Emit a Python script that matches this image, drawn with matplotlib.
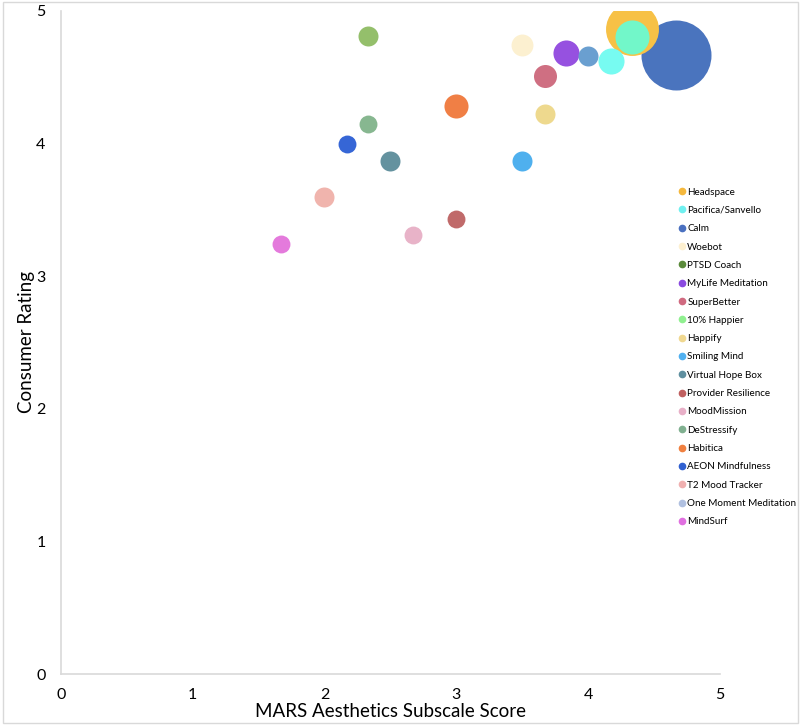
import matplotlib.pyplot as plt
from matplotlib.lines import Line2D
from matplotlib.patches import Rectangle

# ---- data ----
apps = ["Headspace", "Pacifica/Sanvello", "Calm", "Woebot", "PTSD Coach",
        "MyLife Meditation", "SuperBetter", "10% Happier", "Happify",
        "Smiling Mind", "Virtual Hope Box", "Provider Resilience",
        "MoodMission", "DeStressify", "Habitica", "AEON Mindfulness",
        "T2 Mood Tracker", "One Moment Meditation", "MindSurf"]
aesthetics = [4.33, 4.17, 4.67, 3.50, 2.33, 3.83, 3.67, 4.33, 3.67, 3.50,
              2.50, 3.00, 2.67, 2.33, 3.00, 2.17, 2.00, 4.00, 1.67]
rating = [4.86, 4.62, 4.67, 4.74, 4.81, 4.68, 4.51, 4.80, 4.22, 3.87,
          3.87, 3.43, 3.31, 4.15, 4.28, 4.00, 3.60, 4.66, 3.24]
bubble = [28.0, 6.8, 49.0, 4.8, 4.0, 6.8, 5.3, 11.6, 4.0, 4.0,
          4.0, 3.2, 3.2, 3.2, 5.8, 3.2, 4.0, 4.0, 3.2]

bubble_colors = ["#f7c146", "#77fbf1", "#4a74be", "#fcf0d0", "#94bf6b",
                 "#9651e0", "#cf6f82", "#72f7c9", "#eed98e", "#4fb0ee",
                 "#64929f", "#c06a6a", "#e8b3c8", "#87b790", "#f07f45",
                 "#3666d6", "#f0b4ad", "#6a9fd0", "#e47adc"]
legend_colors = ["#f5b83d", "#70f0f0", "#4a70c0", "#fdf0d0", "#5a8a3a",
                 "#8a4ae0", "#d06a80", "#90f090", "#f0d890", "#50b0f0",
                 "#6090a0", "#c06060", "#e8b0c8", "#80b090", "#f08040",
                 "#3060d0", "#f0b0b0", "#b0c0e0", "#e070e0"]

plt.rcParams["font.family"] = ["Lato", "DejaVu Sans"]

fig = plt.figure(figsize=(8, 7.25), dpi=100)
ax = fig.add_axes([0.076, 0.0703, 0.824, 0.9147])

# bigger bubbles further back
for i in range(len(apps)):
    ax.scatter(aesthetics[i], rating[i], s=bubble[i] * 51.84,
               color=bubble_colors[i], linewidth=0,
               zorder=100 - bubble[i])

ax.set_xlim(0, 5)
ax.set_ylim(0, 5)
ax.set_xticks(range(6))
ax.set_yticks(range(6))
ax.tick_params(length=0, labelsize=11.5)
ax.tick_params(axis="x", pad=10)
ax.tick_params(axis="y", pad=11)
for side in ["top", "right"]:
    ax.spines[side].set_visible(False)
for side in ["left", "bottom"]:
    ax.spines[side].set_color("#d9d9d9")
    ax.spines[side].set_linewidth(1.2)

ax.set_xlabel("MARS Aesthetics Subscale Score", fontsize=13.5, labelpad=1)
ax.set_ylabel("Consumer Rating", fontsize=13.5, labelpad=1)

handles = [Line2D([], [], marker="o", linestyle="", markersize=4.5,
                  markerfacecolor=c, markeredgecolor=c) for c in legend_colors]
ax.legend(handles, apps, loc="upper left", bbox_to_anchor=(0.843, 0.748),
          bbox_transform=fig.transFigure, frameon=False, fontsize=7.1,
          handlelength=0.5, handletextpad=0.3, labelspacing=0.945,
          borderpad=0)

# light frame around the whole picture
fig.patches.append(Rectangle((0.004, 0.003), 0.993, 0.994, transform=fig.transFigure,
                             fill=False, edgecolor="#d9d9d9", linewidth=1))

fig.savefig("out.png", dpi=100)
